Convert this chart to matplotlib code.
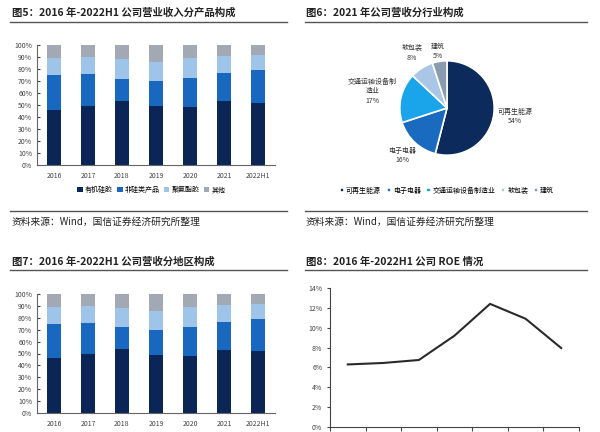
import matplotlib
matplotlib.use("Agg")
import matplotlib.pyplot as plt
import numpy as np
from matplotlib.ticker import PercentFormatter

plt.rcParams['font.family'] = ['Noto Sans CJK SC', 'DejaVu Sans']

years = ["2016", "2017", "2018", "2019", "2020", "2021", "2022H1"]
prod_names = ["有机硅胶", "非硅类产品", "聚氨酯胶", "其他"]
silicone = [46.0, 49.5, 53.5, 49.0, 48.0, 53.0, 52.0]
non_si = [29.0, 26.0, 18.5, 21.0, 24.5, 23.5, 27.0]
pu_glue = [14.0, 14.5, 16.0, 16.0, 16.5, 14.5, 13.0]
others = [100 - a - b - c for a, b, c in zip(silicone, non_si, pu_glue)]

ind_names = ["可再生能源", "电子电器", "交通运输设备制造业", "软包装", "建筑"]
ind_labels = ["可再生能源", "电子电器", "交通运输设备制\n造业", "软包装", "建筑"]
ind_share = [54, 16, 17, 8, 5]

roe = [6.3, 6.45, 6.75, 9.2, 12.4, 10.9, 7.95]

bar_colors = ["#0b2656", "#1868bf", "#9fc4ea", "#a3a9b4"]
pie_colors = ["#0c2a5c", "#1a6bbf", "#1aa5ea", "#a9c6e6", "#8a9bb0"]

W, H = 600, 432
fig = plt.figure(figsize=(6, 4.32), dpi=100)


def px_axes(l, t, r, b):
    return fig.add_axes([l / W, 1 - b / H, (r - l) / W, (b - t) / H])


def hline(y, x0, x1):
    fig.add_artist(plt.Line2D([x0 / W, x1 / W], [1 - y / H, 1 - y / H],
                              color="#555555", lw=1.0))


def ftext(x, y, s, size=7.5, weight="bold"):
    fig.text(x / W, 1 - y / H, s, fontsize=size, fontweight=weight,
             va="center", ha="left", color="#222222")


def stacked(ax, legend):
    x = np.arange(len(years))
    bottom = np.zeros(len(years))
    for vals, c, name in zip([silicone, non_si, pu_glue, others], bar_colors, prod_names):
        ax.bar(x, vals, 0.44, bottom=bottom, color=c, label=name)
        bottom += np.array(vals)
    ax.set_xlim(-0.5, len(years) - 0.5)
    ax.set_ylim(0, 100)
    ax.set_yticks(np.arange(0, 101, 10))
    ax.yaxis.set_major_formatter(PercentFormatter(decimals=0))
    ax.set_xticks(x, years)
    ax.tick_params(axis="y", labelsize=5, length=2, direction="in", colors="#444444")
    ax.tick_params(axis="x", labelsize=5, length=0, colors="#444444", pad=5)
    for s in ["top", "right"]:
        ax.spines[s].set_visible(False)
    for s in ["left", "bottom"]:
        ax.spines[s].set_color("#666666")
        ax.spines[s].set_linewidth(0.8)
    if legend:
        ax.legend(loc="center", bbox_to_anchor=(0.48, -0.21), ncol=4, fontsize=5,
                  frameon=False, handlelength=0.8, handleheight=0.8,
                  handletextpad=0.3, columnspacing=0.6)


# panel 1
ftext(12, 13, "图5：2016 年-2022H1 公司营业收入分产品构成")
hline(22, 10, 287)
ax1 = px_axes(37, 45, 275, 165)
stacked(ax1, True)
hline(211, 10, 287)
ftext(12, 222, "资料来源：Wind，国信证券经济研究所整理", size=7, weight="normal")

# panel 2
ftext(306, 13, "图6：2021 年公司营收分行业构成")
hline(22, 305, 587)
ax2 = px_axes(388, 49, 506, 167)
wedges, texts = ax2.pie(ind_share, colors=pie_colors, startangle=90, counterclock=False,
                        labels=[f"{l}\n{v}%" for l, v in zip(ind_labels, ind_share)],
                        labeldistance=1.3,
                        wedgeprops=dict(edgecolor="white", linewidth=1.2),
                        textprops=dict(fontsize=5, color="#333333"))
label_dist = [1.45, 1.38, 1.62, 1.38, 1.22]
for t, w, d in zip(texts, wedges, label_dist):
    ang = np.deg2rad((w.theta1 + w.theta2) / 2)
    t.set_position((d * np.cos(ang), d * np.sin(ang)))
    t.set_ha("center")
    t.set_va("center")
    t.set_multialignment("center")
ax2.set_aspect("equal")
ax2.legend(wedges, ind_names, loc="center", bbox_to_anchor=(0.5, -0.2), ncol=5,
           fontsize=5, frameon=False, handlelength=0.6, handleheight=0.6,
           handletextpad=0.3, columnspacing=0.8)
hline(211, 305, 587)
ftext(306, 222, "资料来源：Wind，国信证券经济研究所整理", size=7, weight="normal")

# panel 3
ftext(12, 262, "图7：2016 年-2022H1 公司营收分地区构成")
hline(270, 10, 287)
ax3 = px_axes(37, 294, 275, 413)
stacked(ax3, False)

# panel 4
ftext(306, 262, "图8：2016 年-2022H1 公司 ROE 情况")
hline(270, 305, 587)
ax4 = px_axes(330, 288, 579, 427)
xc = np.arange(len(years)) + 0.5
ax4.plot(xc, roe, color="#2a2a2a", lw=1.5)
ax4.set_xlim(0, len(years))
ax4.set_ylim(0, 14)
ax4.set_yticks(np.arange(0, 15, 2))
ax4.yaxis.set_major_formatter(PercentFormatter(decimals=0))
ax4.set_xticks(np.arange(len(years) + 1))
ax4.set_xticklabels([])
ax4.tick_params(axis="y", labelsize=5, length=2, direction="out", colors="#444444")
ax4.tick_params(axis="x", length=3, direction="out", colors="#444444")
for s in ["top", "right"]:
    ax4.spines[s].set_visible(False)
for s in ["left", "bottom"]:
    ax4.spines[s].set_color("#444444")
    ax4.spines[s].set_linewidth(0.8)

fig.savefig("out.png", dpi=100)
